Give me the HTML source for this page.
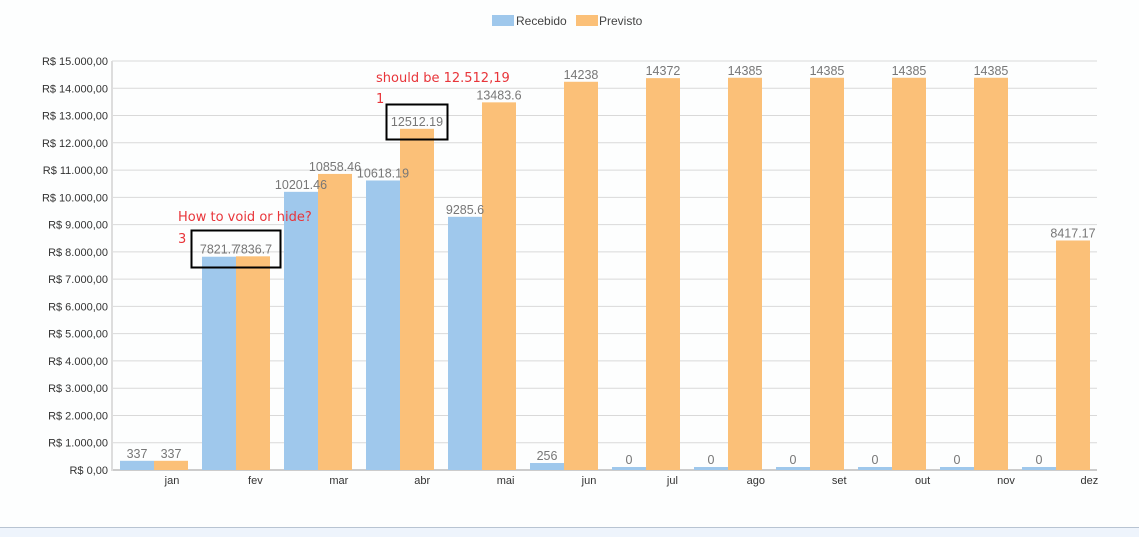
<!DOCTYPE html>
<html><head><meta charset="utf-8"><style>
body{margin:0;width:1139px;height:537px;background:#fdfefe;overflow:hidden;font-family:"Liberation Sans",sans-serif}
</style></head><body>
<svg width="1139" height="537" style="position:absolute;left:0;top:0">
<rect x="0" y="527" width="1139" height="10" fill="#eef4fc"/>
<line x1="0" y1="527.5" x2="1139" y2="527.5" stroke="#b8c4d2"/>
<g id="legend">
<rect x="492" y="15" width="22" height="11" fill="#9fc8ec"/>
<text x="516" y="25" font-size="12" fill="#444">Recebido</text>
<rect x="576" y="15" width="22" height="11" fill="#fbc078"/>
<text x="599" y="25" font-size="12" fill="#444">Previsto</text>
</g>
<g id="grid"></g><g id="bars"></g><g id="labels"></g>
<g font-family="'DejaVu Sans',sans-serif" fill="#e8353a" font-size="13">
<text x="376" y="82">should be 12.512,19</text>
<text x="376" y="103">1</text>
<rect x="386.5" y="104.5" width="61" height="35" fill="none" stroke="#000" stroke-width="2"/>
<text x="178" y="221">How to void or hide?</text>
<text x="178" y="243">3</text>
<rect x="191.5" y="230.5" width="89" height="37" fill="none" stroke="#000" stroke-width="2"/>
</g>
</svg>
<script>
const categories=["jan","fev","mar","abr","mai","jun","jul","ago","set","out","nov","dez"];
const recebido=[337,7821.7,10201.46,10618.19,9285.6,256,0,0,0,0,0,0];
const previsto=[337,7836.7,10858.46,12512.19,13483.6,14238,14372,14385,14385,14385,14385,8417.17];
const yTicks=[0,1000,2000,3000,4000,5000,6000,7000,8000,9000,10000,11000,12000,13000,14000,15000];
const yTickLabels=["R$ 0,00","R$ 1.000,00","R$ 2.000,00","R$ 3.000,00","R$ 4.000,00","R$ 5.000,00","R$ 6.000,00","R$ 7.000,00","R$ 8.000,00","R$ 9.000,00","R$ 10.000,00","R$ 11.000,00","R$ 12.000,00","R$ 13.000,00","R$ 14.000,00","R$ 15.000,00"];
const NS="http://www.w3.org/2000/svg";
const y=v=>470-v*(409/15000);
const gx=i=>120+i*82;
const lx=i=>172+i*83.4;
const bw=34;
function mk(t,a,p){const e=document.createElementNS(NS,t);for(const k in a)e.setAttribute(k,a[k]);p.appendChild(e);return e;}
const G=document.getElementById('grid'),B=document.getElementById('bars'),L=document.getElementById('labels');
yTicks.forEach((v,i)=>{
 const l=mk('line',{x1:112,x2:1097,y1:y(v),y2:y(v),stroke:i==0?'#ccc':'#d9d9d9','stroke-width':i==0?2:1},G);
 
 
 const t=mk('text',{x:108,y:y(v)+4,'text-anchor':'end','font-size':11,fill:'#333'},G);t.textContent=yTickLabels[i];
 
 
});
const ax=mk('line',{x1:112,x2:112,y1:y(15000),y2:471,stroke:'#ddd','stroke-width':2},G);


categories.forEach((c,i)=>{
 const t=mk('text',{x:lx(i),y:484,'text-anchor':'middle','font-size':11,fill:'#333'},L);t.textContent=c;
 
 
 [[recebido,'#9fc8ec',0,'recebido'],[previsto,'#fbc078',bw,'previsto']].forEach(([arr,col,off,nm])=>{
  const v=arr[i];const top=Math.min(y(v),467);
  const r=mk('rect',{x:gx(i)+off,y:top,width:bw,height:470-top,fill:col},B);
  
  
  const tt=mk('text',{x:gx(i)+off+bw/2,y:top-3,'text-anchor':'middle','font-size':12.5,fill:'#777'},L);tt.textContent=String(v);
  
  
 });
});
</script>
</body></html>
